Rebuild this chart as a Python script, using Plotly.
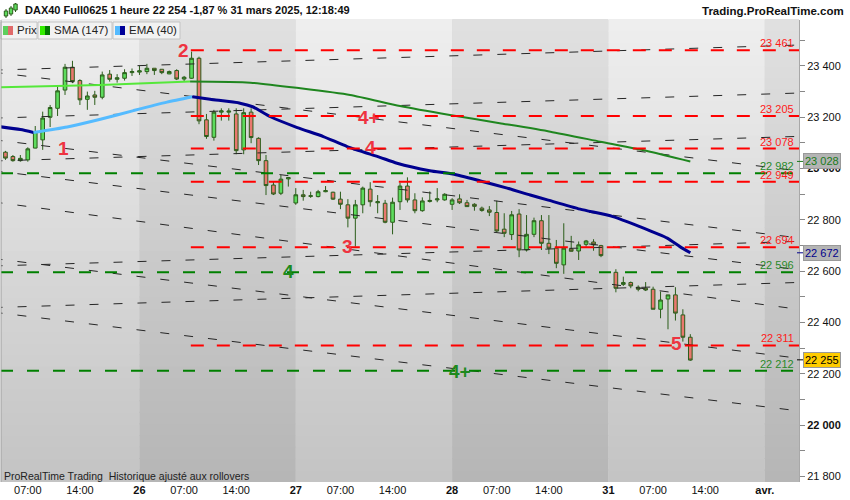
import plotly.graph_objects as go

W, H = 850, 500
L, R, T, B = 1, 51, 20, 18
FONT = "Liberation Sans, Arial, sans-serif"

# hourly bars, bar 0 = 25 mars 04:00, one session = 21 bars (01:00 -> 21:00)
# no bar printed for 31 mars 01:00
days = ["25", "26", "27", "28", "31", "avr."]
bars_per_day = 21
first_bar_hour = 4
bar_x = list(range(0, 81)) + list(range(82, 93))

opens = [23064, 23047, 23031, 23034, 23080, 23112, 23200, 23235, 23306, 23395,
         23343, 23270, 23287, 23278, 23368, 23348, 23352, 23374, 23376, 23378,
         23391, 23387, 23369, 23382, 23349, 23352, 23430, 23190, 23122, 23220,
         23220, 23213, 23073, 23220, 23118, 23031, 22936, 22904, 22960, 22866,
         22898, 22892, 22891, 22910, 22908, 22881, 22859, 22807, 22859, 22920,
         22867, 22865, 22791, 22871, 22932, 22878, 22836, 22872, 22878, 22878,
         22861, 22882, 22867, 22861, 22846, 22839, 22829, 22764, 22743, 22823,
         22683, 22744, 22797, 22709, 22690, 22625, 22687, 22679, 22705, 22714, 22700,
         22596, 22549, 22556, 22538, 22534, 22530, 22452, 22492, 22508, 22430, 22343]
highs = [23069, 23053, 23053, 23083, 23166, 23222, 23248, 23320, 23408, 23420,
         23348, 23300, 23303, 23378, 23384, 23368, 23387, 23390, 23400, 23408,
         23391, 23387, 23382, 23387, 23361, 23456, 23436, 23213, 23229, 23235,
         23235, 23235, 23235, 23235, 23122, 23053, 22949, 22975, 22967, 22924,
         22917, 22910, 22917, 22932, 22910, 22910, 22881, 22878, 22930, 22947,
         22897, 22878, 22887, 22945, 22966, 22904, 22888, 22911, 22924, 22904,
         22885, 22900, 22878, 22865, 22852, 22854, 22875, 22826, 22835, 22842,
         22819, 22809, 22819, 22819, 22722, 22787, 22738, 22716, 22722, 22725, 22703,
         22608, 22579, 22560, 22545, 22558, 22540, 22521, 22508, 22538, 22452, 22355]
lows = [23034, 23027, 23027, 23027, 23079, 23073, 23162, 23205, 23287, 23333,
        23248, 23229, 23248, 23270, 23339, 23335, 23343, 23361, 23365, 23368,
        23365, 23368, 23368, 23345, 23339, 23350, 23173, 23116, 23109, 23187,
        23187, 23056, 23056, 23099, 23014, 22897, 22897, 22897, 22930, 22859,
        22875, 22886, 22888, 22908, 22878, 22842, 22771, 22696, 22826, 22852,
        22826, 22787, 22744, 22839, 22868, 22826, 22832, 22868, 22869, 22875,
        22839, 22862, 22852, 22836, 22832, 22815, 22752, 22733, 22722, 22655,
        22677, 22733, 22683, 22667, 22612, 22590, 22677, 22644, 22696, 22680, 22655,
        22518, 22543, 22534, 22522, 22523, 22452, 22417, 22374, 22408, 22326, 22251]
closes = [23041, 23031, 23040, 23077, 23144, 23197, 23238, 23303, 23395, 23339,
          23268, 23283, 23278, 23365, 23348, 23354, 23374, 23378, 23381, 23391,
          23382, 23374, 23378, 23349, 23356, 23430, 23186, 23125, 23220, 23225,
          23224, 23070, 23218, 23121, 23031, 22934, 22901, 22959, 22965, 22898,
          22891, 22894, 22910, 22914, 22881, 22861, 22807, 22859, 22924, 22871,
          22871, 22791, 22869, 22932, 22878, 22836, 22874, 22876, 22882, 22900,
          22878, 22867, 22852, 22853, 22837, 22830, 22757, 22748, 22820, 22683,
          22744, 22797, 22709, 22690, 22631, 22690, 22678, 22703, 22718, 22703, 22661,
          22534, 22556, 22543, 22530, 22527, 22452, 22488, 22508, 22437, 22343, 22254]

# SMA(147) and EMA(40) (bar, value)
sma_x = [-0.7, 12.75, 24.8, 32.9, 39.6, 46.3, 53, 59.7, 66.4, 73.2, 79.9, 86.6, 92]
sma_v = [23317, 23326, 23339, 23335, 23313, 23287, 23244, 23209, 23177, 23144, 23105, 23066, 23028]
ema_x = [-0.7, 2.0, 3.76, 8.3, 12.75, 17.2, 21.7, 25.1, 27.5, 31.5, 33.2, 35.6, 39.2, 42.7,
         45.9, 50.3, 52.6, 57.0, 60.1, 63.8, 67.4, 70.5, 72.8, 77.2, 81.6, 85.2, 88.9, 90.6, 92]
ema_v = [23163, 23152, 23141, 23162, 23192, 23226, 23259, 23280, 23270, 23255, 23241, 23202, 23160, 23125,
         23086, 23044, 23021, 22992, 22979, 22952, 22924, 22897, 22878, 22842, 22813, 22774, 22729, 22696, 22672]

red_levels = [23461, 23205, 23078, 22949, 22694, 22311]
green_levels = [22982, 22596, 22212]
red_from_bar = 24.9

# dashed trend lines: price at bar 0 and at bar 106
trend_lines = [(23385, 23481), (23198, 23294), (23031, 23125), (22622, 22716), (22460, 22556),
               (23370, 22993), (23107, 22732), (22986, 22608), (22864, 22454), (22644, 22263),
               (22435, 22058)]

pivots_red = [("1", 7.8, 23078), ("2", 23.9, 23460), ("4+", 48.9, 23200),
              ("4", 49, 23082), ("3", 46, 22696), ("5", 90.1, 22318)]
pivots_green = [("4", 38, 22598), ("4+", 61.1, 22208)]

last_quote = 22255
title = "DAX40 Full0625 1 heure 22 254 -1,87 % 31 mars 2025, 12:18:49"

x_lo, x_hi = -0.6, 106.6
y_lo, y_hi = 21779, 23579


def fmt(v):
    return f"{v:,.0f}".replace(",", " ")


def px(x):
    return (x - L) / (W - L - R)


def py(y):
    return (H - B - y) / (H - T - B)


def mix(c0, c1, t):
    a = [int(c0[i:i + 2], 16) for i in (1, 3, 5)]
    b = [int(c1[i:i + 2], 16) for i in (1, 3, 5)]
    return "rgb(%d,%d,%d)" % tuple(round(a[i] + (b[i] - a[i]) * t) for i in range(3))


fig = go.Figure()
shapes = []

# day bands, light / dark, with a vertical gradient made of thin strips
bounds = [x_lo] + [k * bars_per_day - (first_bar_hour - 1) for k in range(1, len(days))] + [x_hi]
n_strips = 40
for k in range(len(bounds) - 1):
    bottom, top = ("#c3c3c3", "#efefef") if k % 2 == 0 else ("#b5b5b5", "#e1e1e1")
    for j in range(n_strips):
        shapes.append(dict(type="rect", xref="x", yref="paper", layer="below",
                           x0=bounds[k], x1=bounds[k + 1], y0=j / n_strips, y1=(j + 1) / n_strips + 0.002,
                           fillcolor=mix(bottom, top, (j + 0.5) / n_strips), line=dict(width=0)))

fig.add_trace(go.Candlestick(x=bar_x, open=opens, high=highs, low=lows, close=closes,
                             increasing=dict(fillcolor="#5ddc5d", line=dict(color="#2b5d1a", width=1)),
                             decreasing=dict(fillcolor="#e9786f", line=dict(color="#2b5d1a", width=1)),
                             whiskerwidth=0, hoverinfo="skip", showlegend=False))

for p0, p1 in trend_lines:
    xs = [x_lo - 1, x_hi + 1]
    ys = [p0 + (p1 - p0) * x / 106 for x in xs]
    fig.add_trace(go.Scatter(x=xs, y=ys, mode="lines", hoverinfo="skip", showlegend=False,
                             line=dict(color="#262626", width=1, dash="9px,15px")))


def two_tone(xs, vs, up_col, down_col, width):
    start = 0
    for i in range(1, len(xs)):
        rising = vs[i] > vs[i - 1]
        last = i == len(xs) - 1
        if last or (vs[i + 1] > vs[i]) != rising:
            fig.add_trace(go.Scatter(x=xs[start:i + 1], y=vs[start:i + 1], mode="lines",
                                     line=dict(color=up_col if rising else down_col, width=width,
                                               shape="spline", smoothing=0.6),
                                     hoverinfo="skip", showlegend=False))
            start = i


two_tone(sma_x, sma_v, "#55e83a", "#1f861f", 2)
two_tone(ema_x, ema_v, "#55bbff", "#00008f", 3)

for v in red_levels:
    fig.add_trace(go.Scatter(x=[red_from_bar, x_hi + 1], y=[v, v], mode="lines", hoverinfo="skip",
                             showlegend=False, line=dict(color="#ff0000", width=2, dash="13px,13px")))
for v in green_levels:
    fig.add_trace(go.Scatter(x=[x_lo, x_hi + 1], y=[v, v], mode="lines", hoverinfo="skip",
                             showlegend=False, line=dict(color="#008000", width=2, dash="12px,14px")))

ann = []
for v in red_levels:
    ann.append(dict(x=x_hi - 0.4, y=v, xref="x", yref="y", text=fmt(v), showarrow=False,
                    xanchor="right", yanchor="middle", yshift=7, font=dict(color="#ff1a1a", size=11)))
for v in green_levels:
    ann.append(dict(x=x_hi - 0.4, y=v, xref="x", yref="y", text=fmt(v), showarrow=False,
                    xanchor="right", yanchor="middle", yshift=7, font=dict(color="#2a8a2a", size=11)))
for txt, bx, v in pivots_red:
    ann.append(dict(x=bx, y=v, text=f"<b>{txt}</b>", showarrow=False, font=dict(color="#ee3340", size=19)))
for txt, bx, v in pivots_green:
    ann.append(dict(x=bx, y=v, text=f"<b>{txt}</b>", showarrow=False, font=dict(color="#1e8a1e", size=19)))

# value boxes on the price axis
for v, txt_col, bg in [(sma_v[-1], "#1a7a1a", "#b4b4b4"), (ema_v[-1], "#00008b", "#b4b4b4"),
                       (last_quote, "#000000", "#ffcc00")]:
    ann.append(dict(x=px(803), xref="paper", y=v, yref="y", text=fmt(v), showarrow=False,
                    xanchor="left", yanchor="middle", bgcolor=bg, bordercolor="#999999",
                    borderwidth=1, borderpad=1, font=dict(color=txt_col, size=11)))

# header
ann.append(dict(x=px(23), y=py(10), xref="paper", yref="paper", text="<b>" + title + "</b>",
                showarrow=False, xanchor="left", yanchor="middle", font=dict(size=11, color="#111")))
ann.append(dict(x=px(846), y=py(11), xref="paper", yref="paper", text="<b>Trading.ProRealTime.com</b>",
                showarrow=False, xanchor="right", yanchor="middle", font=dict(size=11.5, color="#111")))
ann.append(dict(x=px(2), y=py(476), xref="paper", yref="paper",
                text="ProRealTime Trading&nbsp; Historique ajusté aux rollovers",
                showarrow=False, xanchor="left", yanchor="middle", font=dict(size=10.5, color="#222")))

# legend boxes
for (x0, x1, label, c_left, c_right) in [(1, 37, "Prix", "#5ccf5c", "#e06a6a"),
                                          (38, 112, "SMA (147)", "#33ee00", "#007a00"),
                                          (113, 180, "EMA (40)", "#55bbff", "#000099")]:
    shapes.append(dict(type="rect", xref="paper", yref="paper", x0=px(x0), x1=px(x1), y0=py(39), y1=py(22),
                       fillcolor="#f2f2f2", line=dict(color="#c4c4c4", width=1)))
    shapes.append(dict(type="rect", xref="paper", yref="paper", x0=px(x0 + 2), x1=px(x0 + 7), y0=py(35),
                       y1=py(26), fillcolor=c_left, line=dict(width=0)))
    shapes.append(dict(type="rect", xref="paper", yref="paper", x0=px(x0 + 7), x1=px(x0 + 12), y0=py(35),
                       y1=py(26), fillcolor=c_right, line=dict(width=0)))
    ann.append(dict(x=px(x0 + 14), y=py(30.5), xref="paper", yref="paper", text=label, showarrow=False,
                    xanchor="left", yanchor="middle", font=dict(size=11.5, color="#222")))

# small candle icon in the header
for (cx, top, bot, wt, wb) in [(6, 11, 16, 9, 18), (11, 8, 14, 6, 16), (15.5, 4, 10, 3, 12)]:
    shapes.append(dict(type="line", xref="paper", yref="paper", x0=px(cx), x1=px(cx), y0=py(wb), y1=py(wt),
                       line=dict(color="#2b5d1a", width=1)))
    shapes.append(dict(type="rect", xref="paper", yref="paper", x0=px(cx - 1.7), x1=px(cx + 1.7),
                       y0=py(bot), y1=py(top), fillcolor="#5ddc5d", line=dict(color="#2b5d1a", width=1)))

# marks on the axis next to the value boxes
for v, c in [(sma_v[-1], "#1a7a1a"), (ema_v[-1], "#00008b"), (last_quote, "#000000")]:
    shapes.append(dict(type="line", xref="paper", yref="y", x0=px(797), x1=px(804), y0=v, y1=v,
                       line=dict(color=c, width=1)))
shapes.append(dict(type="line", xref="paper", yref="paper", x0=0, x1=0, y0=0, y1=1,
                   line=dict(color="#a0a0a0", width=1)))

# axis ticks
tick_x, tick_t = [], []
for k, d in enumerate(days):
    start = k * bars_per_day - (first_bar_hour - 1)
    if start >= x_lo:
        tick_x.append(start)
        tick_t.append(f"<b>{d}</b>")
    if k < len(days) - 1:
        tick_x += [start + 6, start + 13]
        tick_t += ["07:00", "14:00"]

y_ticks = list(range(21800, 23600, 100))
y_text = []
for v in y_ticks:
    if v % 200:
        y_text.append("")
    elif v % 1000 == 0:
        y_text.append(f"<b>{fmt(v)}</b>")
    else:
        y_text.append(fmt(v))

fig.update_layout(
    width=W, height=H, margin=dict(l=L, r=R, t=T, b=B),
    paper_bgcolor="white", plot_bgcolor="#d8d8d8",
    font=dict(family=FONT, size=11, color="#111"),
    showlegend=False, hovermode=False,
    shapes=shapes, annotations=ann,
    xaxis=dict(range=[x_lo, x_hi], rangeslider=dict(visible=False), showgrid=False, zeroline=False,
               tickvals=tick_x, ticktext=tick_t, ticks="", tickfont=dict(size=11, color="#111"),
               fixedrange=True),
    yaxis=dict(range=[y_lo, y_hi], side="right", showgrid=False, zeroline=False,
               tickvals=y_ticks, ticktext=y_text, ticks="outside", ticklen=5, tickcolor="#888",
               showline=True, linecolor="#a8a8a8", tickfont=dict(size=11, color="#111"),
               fixedrange=True),
)

fig.write_html("out.html", config={"displayModeBar": False},
               post_script="document.body.style.margin='0px';")
